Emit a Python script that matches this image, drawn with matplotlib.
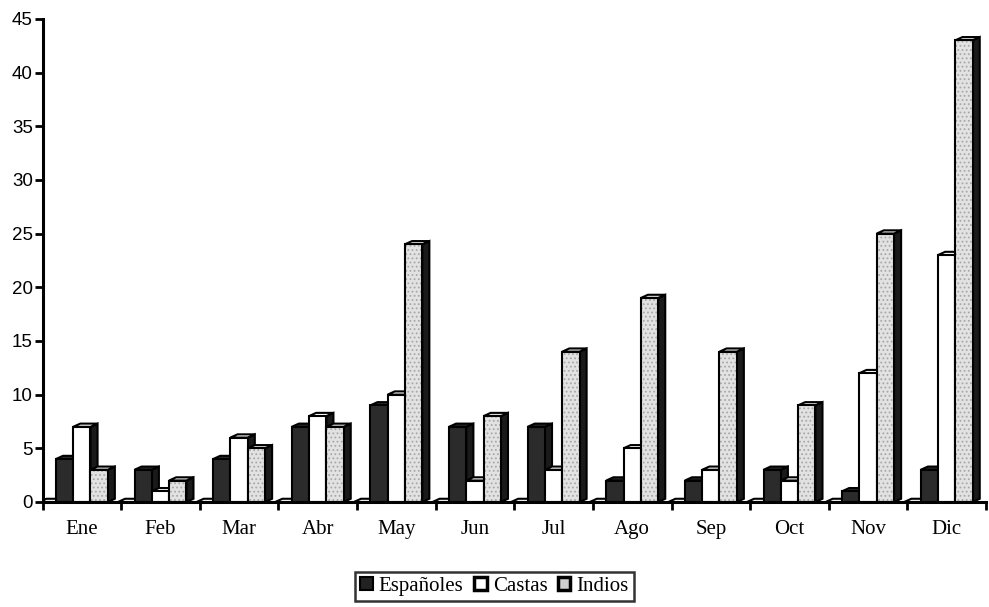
import matplotlib
matplotlib.use("Agg")
import matplotlib.pyplot as plt
from matplotlib.patches import Polygon, Patch

months = ["Ene", "Feb", "Mar", "Abr", "May", "Jun", "Jul", "Ago", "Sep", "Oct", "Nov", "Dic"]
espanoles = [4, 3, 4, 7, 9, 7, 7, 2, 2, 3, 1, 3]
castas = [7, 1, 6, 8, 10, 2, 3, 5, 3, 2, 12, 23]
indios = [3, 2, 5, 7, 24, 8, 14, 19, 14, 9, 25, 43]
blank = [0, 0, 0, 0, 0, 0, 0, 0, 0, 0, 0, 0]
y_ticks = [0, 5, 10, 15, 20, 25, 30, 35, 40, 45]

plt.rcParams['font.family'] = ['Liberation Serif', 'DejaVu Serif']
plt.rcParams['hatch.linewidth'] = 0.8

fig = plt.figure(figsize=(9.89, 6.07), dpi=100)
ax = fig.add_axes([0.043, 0.173, 0.954, 0.796])

W = 0.22      # front face width
DX = 0.09     # depth in x
DY = 0.3      # depth in y
LW = 1.5
GRAY = "#e2e2e2"

series = [
    (blank, -0.43, "white", "#1a1a1a", "white"),
    (espanoles, -0.22, "#2b2b2b", "#1a1a1a", "#2b2b2b"),
    (castas, 0.0, "white", "#1a1a1a", "white"),
    (indios, 0.22, GRAY, "#1a1a1a", GRAY),
]

for i in range(len(months)):
    for vals, off, front, side, top in series:
        v = vals[i]
        x0 = i + off - W / 2
        x1 = x0 + W
        if v > 0:
            ax.add_patch(Polygon([(x1, 0), (x1 + DX, DY), (x1 + DX, v + DY), (x1, v)],
                                 closed=True, facecolor=side, edgecolor="black",
                                 linewidth=LW, zorder=2))
        ax.add_patch(Polygon([(x0, v), (x0 + DX, v + DY), (x1 + DX, v + DY), (x1, v)],
                             closed=True, facecolor=top, edgecolor="black",
                             linewidth=LW, zorder=2))
        if v > 0:
            if front == GRAY:
                ax.bar(i + off, v, width=W, color=front, edgecolor="#a8a8a8",
                       linewidth=0, hatch='....', zorder=2)
                ax.bar(i + off, v, width=W, fill=False, edgecolor="black",
                       linewidth=LW, zorder=2)
            else:
                ax.bar(i + off, v, width=W, color=front, edgecolor="black",
                       linewidth=LW, zorder=2)

ax.set_xlim(-0.5, 11.5)
ax.set_ylim(0, 45)
ax.set_yticks(y_ticks)
ax.set_yticklabels([str(t) for t in y_ticks], fontsize=13.5,
                   family=['Liberation Sans', 'DejaVu Sans'])
ax.set_xticks(range(len(months)))
ax.set_xticklabels(months, fontsize=15)
ax.set_xticks([k - 0.5 for k in range(len(months) + 1)], minor=True)
ax.tick_params(axis='x', which='major', length=0, pad=13)
ax.tick_params(axis='x', which='minor', length=6, width=2, direction='out')
ax.tick_params(axis='y', length=6, width=2, direction='out', pad=1)
for s in ["top", "right"]:
    ax.spines[s].set_visible(False)
for s in ["left", "bottom"]:
    ax.spines[s].set_linewidth(2.2)

handles = [
    Patch(facecolor="#222222", edgecolor="black", linewidth=1.5),
    Patch(facecolor="white", edgecolor="black", linewidth=2.5),
    Patch(facecolor="#cfcfcf", edgecolor="black", linewidth=2.5),
]
leg = fig.legend(handles, ["Españoles", "Castas", "Indios"], loc="center",
                 bbox_to_anchor=(0.5, 0.034), ncol=3, fontsize=15, frameon=True,
                 fancybox=False, edgecolor="black", handlelength=0.6, handleheight=0.6,
                 handletextpad=0.3, columnspacing=0.5, borderpad=0.25, borderaxespad=0)
leg.get_frame().set_linewidth(1.8)

fig.savefig("out.png", dpi=100)
